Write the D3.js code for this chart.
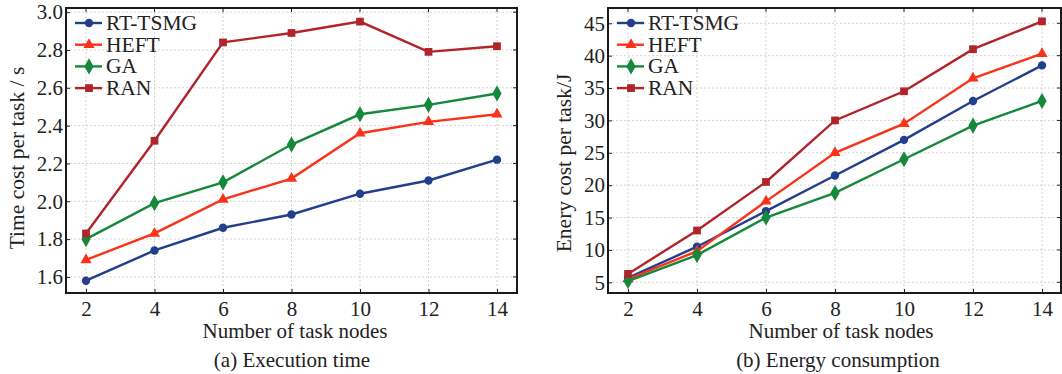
<!DOCTYPE html>
<html>
<head>
<meta charset="utf-8">
<script src="https://d3js.org/d3.v7.min.js"></script>
<style>
  body { margin: 0; background: #fff; }
  text { font-family: "Liberation Serif", "DejaVu Serif", serif; fill: #222; }
</style>
</head>
<body>
<div id="chart"></div>
<script>
// data
const nodes = [2, 4, 6, 8, 10, 12, 14];
const seriesNames = ["RT-TSMG", "HEFT", "GA", "RAN"];

// (a) time cost per task / s
const timeRT   = [1.58, 1.74, 1.86, 1.93, 2.04, 2.11, 2.22];
const timeHEFT = [1.69, 1.83, 2.01, 2.12, 2.36, 2.42, 2.46];
const timeGA   = [1.80, 1.99, 2.10, 2.30, 2.46, 2.51, 2.57];
const timeRAN  = [1.83, 2.32, 2.84, 2.89, 2.95, 2.79, 2.82];
const timeTicks = [1.6, 1.8, 2.0, 2.2, 2.4, 2.6, 2.8, 3.0];

// (b) energy cost per task / J
const engRT   = [5.7, 10.5, 16.0, 21.5, 27.0, 33.0, 38.5];
const engHEFT = [5.5, 9.8, 17.5, 25.0, 29.5, 36.5, 40.3];
const engGA   = [5.2, 9.2, 15.0, 18.8, 24.0, 29.2, 33.0];
const engRAN  = [6.3, 13.0, 20.5, 30.0, 34.5, 41.0, 45.3];
const engTicks = [5, 10, 15, 20, 25, 30, 35, 40, 45];

const colors = ["#233e8b", "#f8331a", "#15883c", "#b0242a"];
const symbols = [d3.symbolCircle, d3.symbolTriangle, d3.symbolDiamond, d3.symbolSquare];
const symSizes = [55, 55, 75, 60];

const svg = d3.select("#chart").append("svg")
    .attr("width", 1062).attr("height", 374);

function panel(opt) {
    const g = svg.append("g");
    const x = d3.scaleLinear().domain([2, 14]).range([opt.x2, opt.x14]);
    const y = d3.scaleLinear().domain(opt.ydom).range([opt.bottom, opt.top]);

    // grid
    g.append("g").selectAll("line").data(nodes).join("line")
        .attr("x1", d => x(d)).attr("x2", d => x(d))
        .attr("y1", opt.top).attr("y2", opt.bottom)
        .attr("stroke", "#c8c8c8").attr("stroke-dasharray", "2,2").attr("stroke-width", 0.8);
    g.append("g").selectAll("line").data(opt.yticks).join("line")
        .attr("x1", opt.left).attr("x2", opt.right)
        .attr("y1", d => y(d)).attr("y2", d => y(d))
        .attr("stroke", "#c8c8c8").attr("stroke-dasharray", "2,2").attr("stroke-width", 0.8);

    // axes with inward ticks
    const xa = g.append("g").attr("transform", `translate(0,${opt.bottom})`)
        .call(d3.axisBottom(x).tickValues(nodes).tickSizeInner(-4).tickSizeOuter(0).tickPadding(8));
    const ya = g.append("g").attr("transform", `translate(${opt.left},0)`)
        .call(d3.axisLeft(y).tickValues(opt.yticks).tickFormat(opt.fmt).tickSizeInner(-4).tickSizeOuter(0).tickPadding(3));
    [xa, ya].forEach(a => {
        a.select(".domain").remove();
        a.selectAll("line").attr("stroke", "#222").attr("stroke-width", 1);
        a.selectAll("text").attr("font-size", 21).attr("fill", "#222");
    });
    // top/right ticks
    g.append("g").selectAll("line").data(nodes).join("line")
        .attr("x1", d => x(d)).attr("x2", d => x(d))
        .attr("y1", opt.top).attr("y2", opt.top + 4).attr("stroke", "#222");
    g.append("g").selectAll("line").data(opt.yticks).join("line")
        .attr("x1", opt.right).attr("x2", opt.right - 4)
        .attr("y1", d => y(d)).attr("y2", d => y(d)).attr("stroke", "#222");

    // frame
    g.append("rect").attr("x", opt.left).attr("y", opt.top)
        .attr("width", opt.right - opt.left).attr("height", opt.bottom - opt.top)
        .attr("fill", "none").attr("stroke", "#1a1a1a").attr("stroke-width", 2);

    // series
    const line = d3.line().x((d, i) => x(nodes[i])).y(d => y(d));
    opt.series.forEach((vals, k) => {
        g.append("path").datum(vals).attr("d", line)
            .attr("fill", "none").attr("stroke", colors[k]).attr("stroke-width", 2.4);
        g.append("g").selectAll("path").data(vals).join("path")
            .attr("transform", (d, i) => `translate(${x(nodes[i])},${y(d)})`)
            .attr("d", d3.symbol().type(symbols[k]).size(symSizes[k]))
            .attr("fill", colors[k]);
    });

    // legend
    const lg = g.append("g");
    seriesNames.forEach((name, k) => {
        const ly = opt.top + 15 + k * 21.7;
        lg.append("line").attr("x1", opt.legX).attr("x2", opt.legX + 27)
            .attr("y1", ly).attr("y2", ly).attr("stroke", colors[k]).attr("stroke-width", 2.4);
        lg.append("path").attr("transform", `translate(${opt.legX + 14},${ly})`)
            .attr("d", d3.symbol().type(symbols[k]).size(symSizes[k])).attr("fill", colors[k]);
        lg.append("text").attr("x", opt.legX + 31).attr("y", ly + 7)
            .attr("font-size", 21.5).text(name);
    });

    // titles
    g.append("text").attr("x", opt.xtitleX).attr("y", 338).attr("text-anchor", "middle")
        .attr("font-size", 21).text("Number of task nodes");
    g.append("text").attr("x", opt.xtitleX - 3).attr("y", 367).attr("text-anchor", "middle")
        .attr("font-size", 21).text(opt.caption);
    g.append("text").attr("transform", `translate(${opt.ytitleX},${opt.ytitleY}) rotate(-90)`)
        .attr("text-anchor", "middle").attr("font-size", 21.5).text(opt.ytitle);
}

panel({
    left: 66, right: 517, top: 8, bottom: 293, x2: 86, x14: 497,
    ydom: [1.515, 3.022], yticks: timeTicks, fmt: d3.format(".1f"),
    series: [timeRT, timeHEFT, timeGA, timeRAN],
    legX: 75, xtitleX: 295, caption: "(a) Execution time",
    ytitle: "Time cost per task / s", ytitleX: 24, ytitleY: 158
});

panel({
    left: 608, right: 1061, top: 8, bottom: 293, x2: 628, x14: 1042,
    ydom: [3.35, 47.36], yticks: engTicks, fmt: d3.format("d"),
    series: [engRT, engHEFT, engGA, engRAN],
    legX: 617, xtitleX: 841, caption: "(b) Energy consumption",
    ytitle: "Enery cost per task/J", ytitleX: 571, ytitleY: 163
});
</script>
</body>
</html>
